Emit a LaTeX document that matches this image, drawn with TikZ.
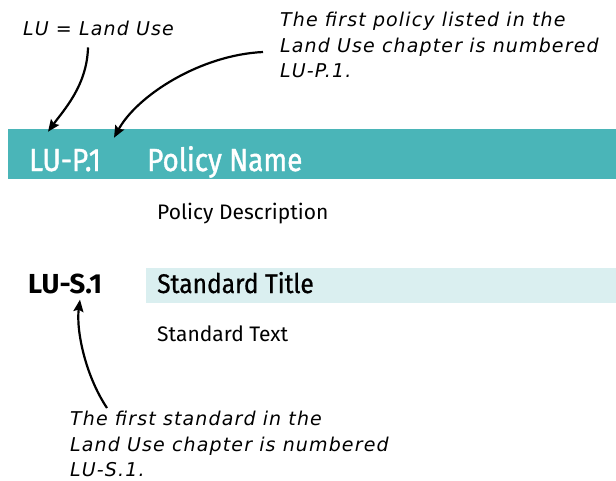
\documentclass[tikz,border=0pt]{standalone}
\usepackage{fontspec}
\usetikzlibrary{arrows.meta,calc}
\newfontfamily\headfont[FakeStretch=0.87,FakeBold=1.2]{Fira Sans}
\newfontfamily\titlefont[FakeStretch=0.91,FakeBold=0.8]{Fira Sans}
\newfontfamily\bodyfont{Fira Sans}
\newfontfamily\notefont[LetterSpace=6]{DejaVu Sans}
\definecolor{barteal}{RGB}{74,181,184}
\definecolor{barpale}{RGB}{218,239,240}
\tikzset{
  note/.style={font=\notefont\itshape\fontsize{19}{25.5}\selectfont, align=left, inner sep=0pt},
  bigtext/.style={font=\headfont\fontsize{32}{36}\selectfont, inner sep=0pt, anchor=base west},
  midtext/.style={font=\titlefont\fontsize{27}{30}\selectfont, inner sep=0pt, anchor=base west},
  bodytext/.style={font=\bodyfont\fontsize{21}{24}\selectfont, inner sep=0pt, anchor=base west},
  callout/.style={line width=2.2pt, -{Stealth[length=12pt,width=10pt,inset=2pt]}}
}
\begin{document}
\begin{tikzpicture}[x=1pt,y=-1pt]
\useasboundingbox (0,0) rectangle (616,480);
% bars behind the headings
\fill[barteal] (8,129) rectangle (616,179);
\fill[barpale] (146,268) rectangle (616,303);
% policy block
\node[bigtext, text=white] (polnum) at (29,171) {LU-P.1};
\node[bigtext, text=white] (polname) at (147,171) {Policy Name};
\node[bodytext] (poldesc) at (157,219) {Policy Description};
% standard block
\node[midtext, font=\bodyfont\bfseries\fontsize{27.5}{30}\selectfont] (stdnum) at (28,293) {LU-S.1};
\node[midtext] (stdtitle) at (157,293) {Standard Title};
\node[bodytext] (stdtext) at (157,341) {Standard Text};
% notes
\node[note, anchor=base west] (landuse) at (23,35) {LU = Land Use};
\node[note, anchor=north west] (polnote) at (280,12) {The first policy listed in the\\Land Use chapter is numbered\\LU-P.1.};
\node[note, anchor=north west] (stdnote) at (70,411) {The first standard in the\\Land Use chapter is numbered\\LU-S.1.};
% arrows
\draw[callout] ($(landuse.south west)+(65,12)$) .. controls +(-1,38) and +(16,-22) .. ($(polnum.north west)+(19,-17)$);
\draw[callout] ($(polnote.north west)+(-17,40)$) .. controls +(-63,3) and +(23,-42) .. ($(polnum.north east)+(13,-11)$);
\draw[callout] ($(stdnote.north west)+(37,-3)$) .. controls +(-22,-33) and +(-4,30) .. ($(stdnum.south west)+(52,6)$);
\end{tikzpicture}
\end{document}
